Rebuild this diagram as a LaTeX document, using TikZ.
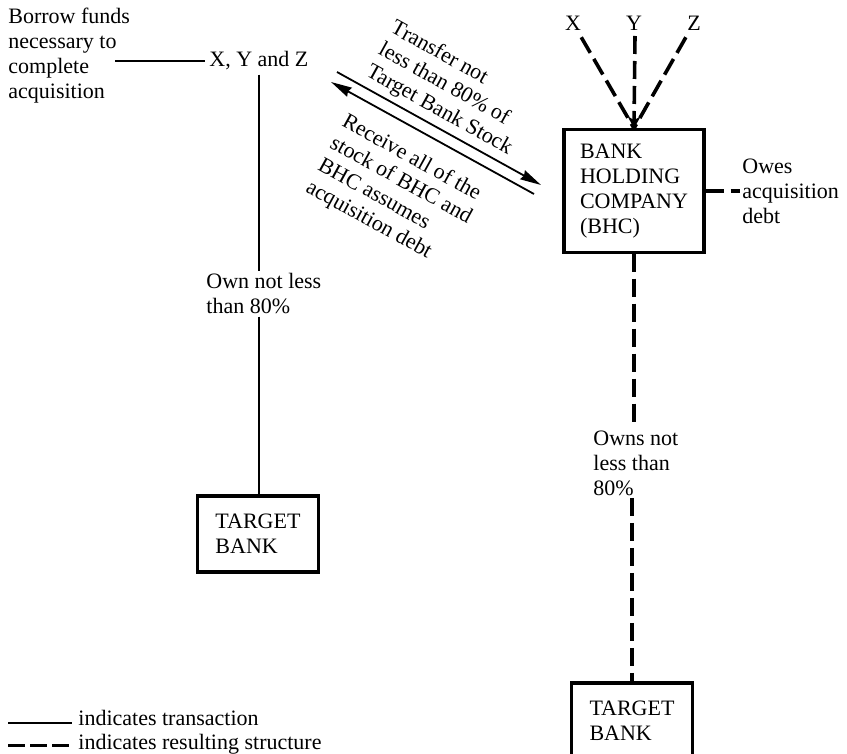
\documentclass[tikz,border=0pt]{standalone}
\usepackage{fontspec}
\setmainfont{Liberation Serif}
\usetikzlibrary{arrows.meta,positioning,calc}
\tikzstyle{deal}=[
  x=0.5pt,y=-0.5pt,font=\fontsize{11}{12.5}\selectfont,
  >={Stealth[length=10.5pt,width=5pt,inset=0.8pt]}
]
\tikzstyle{bankbox}=[
  draw,line width=1.6pt,align=left,inner xsep=8pt,inner ysep=7pt,minimum height=38pt
]
\tikzstyle{notetext}=[
  align=left,inner sep=1pt
]
\tikzstyle{dealedge}=[
    line width=0.9pt
]
\tikzstyle{holdedge}=[
    line width=1.8pt,dash pattern=on 9pt off 3.5pt
]

\begin{document}
\begin{tikzpicture}[deal]
  \useasboundingbox (0,0) rectangle (847,754);
  % before: X, Y and Z own the bank
  \node (borrow) [notetext,anchor=west] at (6,56) {Borrow funds\\necessary to\\complete\\acquisition};
  \node (xyz) [anchor=west,inner sep=2pt] at (205,61) {X, Y and Z};
  \node (own) [notetext,anchor=west] at (204,294) {Own not less\\than 80\%};
  \node (tbleft) [bankbox,minimum width=60.5pt] at (258,534) {TARGET\\BANK};
  \coordinate (loan) at (115,61);
  \draw [dealedge] (loan) -- (xyz);
  \draw [dealedge] (xyz.south) -- (xyz.south |- own.north);
  \draw [dealedge] (xyz.south |- own.south) -- (xyz.south |- tbleft.north);

  % exchange of stock
  \coordinate (give1) at (337,72);
  \coordinate (give2) at (541,185);
  \coordinate (get1) at (331,82);
  \coordinate (get2) at (534,194);
  \draw [dealedge,->] (give1) -- (give2)
    node [pos=0.11,sloped,anchor=south west,notetext,inner xsep=0pt,inner ysep=2.4pt]
    {Transfer not\\less than 80\% of\\Target Bank Stock};
  \draw [dealedge,<-] (get1) -- (get2)
    node [pos=0.125,sloped,anchor=north west,notetext,inner xsep=0pt,inner ysep=8.5pt]
    {Receive all of the\\stock of BHC and\\BHC assumes\\acquisition debt};

  % after: holding company
  \node (holderx) at (573,23) {X};
  \node (holdery) at (634,23) {Y};
  \node (holderz) at (694,23) {Z};
  \node (bhc) [bankbox] at (634,191) {BANK\\HOLDING\\COMPANY\\(BHC)};
  \coordinate (ybot) at (635,36);
  \draw [holdedge] (holderx) -- (bhc.north);
  \draw [holdedge] (holderz) -- (bhc.north);
  \draw [holdedge,-{Stealth[length=6pt,width=6.5pt]}] (ybot) -- (bhc.north);
  \node (owes) [notetext,anchor=west] at (740,191) {Owes\\acquisition\\debt};
  \draw [holdedge] (bhc.east) -- (owes.west);
  \node (owns) [notetext,anchor=west] at (591,463) {Owns not\\less than\\80\%};
  \node (tbright) [bankbox,minimum width=60.5pt] at (632,721) {TARGET\\BANK};
  \draw [holdedge] (bhc.south) -- (bhc.south |- owns.north);
  \draw [holdedge] (tbright.north |- owns.south) -- (tbright.north);

  % legend
  \node (legdeal) [anchor=base west,inner xsep=3pt,inner ysep=0pt] at (72,725) {indicates transaction};
  \node (leghold) [anchor=base west,inner xsep=3pt,inner ysep=0pt] at (72,749) {indicates resulting structure};
  \coordinate (deala) at (8,723);
  \coordinate (holda) at (8,745);
  \draw [dealedge] (deala) -- (deala -| legdeal.west);
  \draw [holdedge,line width=1.5pt,dash pattern=on 8.5pt off 2.5pt] (holda) -- (holda -| leghold.west);
\end{tikzpicture}
\end{document}
